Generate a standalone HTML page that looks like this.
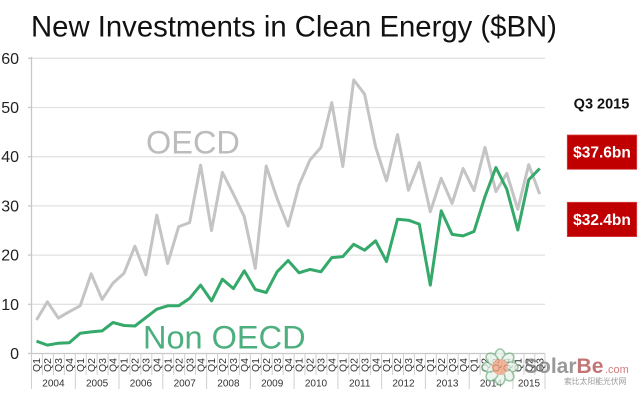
<!DOCTYPE html>
<html>
<head>
<meta charset="utf-8">
<style>
  html,body{margin:0;padding:0;background:#fff;}
  svg{display:block;font-family:"Liberation Sans",Arial,sans-serif;}
</style>
</head>
<body>
<svg width="640" height="408" viewBox="0 0 640 408" xmlns="http://www.w3.org/2000/svg">
  <rect width="640" height="408" fill="#fff"/>
  <!-- title -->
  <text x="31" y="36.5" font-size="29.3" fill="#111">New Investments in Clean Energy ($BN)</text>

  <!-- gridlines -->
  <g stroke="#e2e2e2" stroke-width="1.3">
    <line x1="31.5" y1="58.3" x2="545" y2="58.3"/>
    <line x1="31.5" y1="107.5" x2="545" y2="107.5"/>
    <line x1="31.5" y1="156.7" x2="545" y2="156.7"/>
    <line x1="31.5" y1="205.9" x2="545" y2="205.9"/>
    <line x1="31.5" y1="255.1" x2="545" y2="255.1"/>
    <line x1="31.5" y1="304.3" x2="545" y2="304.3"/>
  </g>
  <line x1="31.5" y1="353.5" x2="545" y2="353.5" stroke="#c8c8c8" stroke-width="1.3"/>
  <line x1="31.5" y1="57" x2="31.5" y2="354" stroke="#c8c8c8" stroke-width="1.3"/>
  <g stroke="#c8c8c8" stroke-width="1.3">
    <line x1="28" y1="58.3" x2="31.5" y2="58.3"/>
    <line x1="28" y1="107.5" x2="31.5" y2="107.5"/>
    <line x1="28" y1="156.7" x2="31.5" y2="156.7"/>
    <line x1="28" y1="205.9" x2="31.5" y2="205.9"/>
    <line x1="28" y1="255.1" x2="31.5" y2="255.1"/>
    <line x1="28" y1="304.3" x2="31.5" y2="304.3"/>
    <line x1="28" y1="353.5" x2="31.5" y2="353.5"/>
  </g>

  <!-- y labels -->
  <g font-size="16" fill="#222" text-anchor="end">
    <text x="19" y="64">60</text>
    <text x="19" y="113">50</text>
    <text x="19" y="162">40</text>
    <text x="19" y="211.5">30</text>
    <text x="19" y="260.5">20</text>
    <text x="19" y="310">10</text>
    <text x="19" y="359">0</text>
  </g>

  <!-- x axis separators -->
  <g stroke="#cfcfcf" stroke-width="1">
    <line x1="42.4" y1="353.5" x2="42.4" y2="375"/><line x1="53.4" y1="353.5" x2="53.4" y2="375"/><line x1="64.3" y1="353.5" x2="64.3" y2="375"/>
    <line x1="86.2" y1="353.5" x2="86.2" y2="375"/><line x1="97.1" y1="353.5" x2="97.1" y2="375"/><line x1="108.1" y1="353.5" x2="108.1" y2="375"/>
    <line x1="130" y1="353.5" x2="130" y2="375"/><line x1="140.9" y1="353.5" x2="140.9" y2="375"/><line x1="151.8" y1="353.5" x2="151.8" y2="375"/>
    <line x1="173.7" y1="353.5" x2="173.7" y2="375"/><line x1="184.7" y1="353.5" x2="184.7" y2="375"/><line x1="195.6" y1="353.5" x2="195.6" y2="375"/>
    <line x1="217.5" y1="353.5" x2="217.5" y2="375"/><line x1="228.4" y1="353.5" x2="228.4" y2="375"/><line x1="239.4" y1="353.5" x2="239.4" y2="375"/>
    <line x1="261.3" y1="353.5" x2="261.3" y2="375"/><line x1="272.2" y1="353.5" x2="272.2" y2="375"/><line x1="283.1" y1="353.5" x2="283.1" y2="375"/>
    <line x1="305" y1="353.5" x2="305" y2="375"/><line x1="316" y1="353.5" x2="316" y2="375"/><line x1="326.9" y1="353.5" x2="326.9" y2="375"/>
    <line x1="348.8" y1="353.5" x2="348.8" y2="375"/><line x1="359.7" y1="353.5" x2="359.7" y2="375"/><line x1="370.7" y1="353.5" x2="370.7" y2="375"/>
    <line x1="392.6" y1="353.5" x2="392.6" y2="375"/><line x1="403.5" y1="353.5" x2="403.5" y2="375"/><line x1="414.4" y1="353.5" x2="414.4" y2="375"/>
    <line x1="436.3" y1="353.5" x2="436.3" y2="375"/><line x1="447.3" y1="353.5" x2="447.3" y2="375"/><line x1="458.2" y1="353.5" x2="458.2" y2="375"/>
    <line x1="480.1" y1="353.5" x2="480.1" y2="375"/><line x1="491" y1="353.5" x2="491" y2="375"/><line x1="502" y1="353.5" x2="502" y2="375"/>
    <line x1="523.9" y1="353.5" x2="523.9" y2="375"/><line x1="534.8" y1="353.5" x2="534.8" y2="375"/>
  </g>
  <g stroke="#cfcfcf" stroke-width="1">
    <line x1="31.5" y1="353.5" x2="31.5" y2="389"/>
    <line x1="75.3" y1="353.5" x2="75.3" y2="389"/>
    <line x1="119" y1="353.5" x2="119" y2="389"/>
    <line x1="162.8" y1="353.5" x2="162.8" y2="389"/>
    <line x1="206.6" y1="353.5" x2="206.6" y2="389"/>
    <line x1="250.4" y1="353.5" x2="250.4" y2="389"/>
    <line x1="294.1" y1="353.5" x2="294.1" y2="389"/>
    <line x1="337.9" y1="353.5" x2="337.9" y2="389"/>
    <line x1="381.6" y1="353.5" x2="381.6" y2="389"/>
    <line x1="425.4" y1="353.5" x2="425.4" y2="389"/>
    <line x1="469.2" y1="353.5" x2="469.2" y2="389"/>
    <line x1="512.9" y1="353.5" x2="512.9" y2="389"/>
    <line x1="545" y1="353.5" x2="545" y2="389"/>
  </g>

  <!-- quarter labels -->
  <g font-size="10.5" fill="#333" text-anchor="middle">
    <text transform="translate(40.2,365) rotate(-90)">Q1</text>
    <text transform="translate(51.1,365) rotate(-90)">Q2</text>
    <text transform="translate(62.1,365) rotate(-90)">Q3</text>
    <text transform="translate(73,365) rotate(-90)">Q4</text>
    <text transform="translate(83.9,365) rotate(-90)">Q1</text>
    <text transform="translate(94.9,365) rotate(-90)">Q2</text>
    <text transform="translate(105.8,365) rotate(-90)">Q3</text>
    <text transform="translate(116.7,365) rotate(-90)">Q4</text>
    <text transform="translate(127.7,365) rotate(-90)">Q1</text>
    <text transform="translate(138.6,365) rotate(-90)">Q2</text>
    <text transform="translate(149.6,365) rotate(-90)">Q3</text>
    <text transform="translate(160.5,365) rotate(-90)">Q4</text>
    <text transform="translate(171.4,365) rotate(-90)">Q1</text>
    <text transform="translate(182.4,365) rotate(-90)">Q2</text>
    <text transform="translate(193.3,365) rotate(-90)">Q3</text>
    <text transform="translate(204.3,365) rotate(-90)">Q4</text>
    <text transform="translate(215.2,365) rotate(-90)">Q1</text>
    <text transform="translate(226.1,365) rotate(-90)">Q2</text>
    <text transform="translate(237.1,365) rotate(-90)">Q3</text>
    <text transform="translate(248,365) rotate(-90)">Q4</text>
    <text transform="translate(259,365) rotate(-90)">Q1</text>
    <text transform="translate(269.9,365) rotate(-90)">Q2</text>
    <text transform="translate(280.8,365) rotate(-90)">Q3</text>
    <text transform="translate(291.8,365) rotate(-90)">Q4</text>
    <text transform="translate(302.7,365) rotate(-90)">Q1</text>
    <text transform="translate(313.6,365) rotate(-90)">Q2</text>
    <text transform="translate(324.6,365) rotate(-90)">Q3</text>
    <text transform="translate(335.5,365) rotate(-90)">Q4</text>
    <text transform="translate(346.5,365) rotate(-90)">Q1</text>
    <text transform="translate(357.4,365) rotate(-90)">Q2</text>
    <text transform="translate(368.3,365) rotate(-90)">Q3</text>
    <text transform="translate(379.3,365) rotate(-90)">Q4</text>
    <text transform="translate(390.2,365) rotate(-90)">Q1</text>
    <text transform="translate(401.2,365) rotate(-90)">Q2</text>
    <text transform="translate(412.1,365) rotate(-90)">Q3</text>
    <text transform="translate(423,365) rotate(-90)">Q4</text>
    <text transform="translate(434,365) rotate(-90)">Q1</text>
    <text transform="translate(444.9,365) rotate(-90)">Q2</text>
    <text transform="translate(455.8,365) rotate(-90)">Q3</text>
    <text transform="translate(466.8,365) rotate(-90)">Q4</text>
    <text transform="translate(477.7,365) rotate(-90)">Q1</text>
    <text transform="translate(488.7,365) rotate(-90)">Q2</text>
    <text transform="translate(499.6,365) rotate(-90)">Q3</text>
    <text transform="translate(510.5,365) rotate(-90)">Q4</text>
    <text transform="translate(521.5,365) rotate(-90)">Q1</text>
    <text transform="translate(532.4,365) rotate(-90)">Q2</text>
    <text transform="translate(543.4,365) rotate(-90)">Q3</text>
  </g>

  <!-- year labels -->
  <g font-size="10" fill="#333" text-anchor="middle">
    <text x="53.4" y="386.5">2004</text>
    <text x="97.1" y="386.5">2005</text>
    <text x="140.9" y="386.5">2006</text>
    <text x="184.7" y="386.5">2007</text>
    <text x="228.4" y="386.5">2008</text>
    <text x="272.2" y="386.5">2009</text>
    <text x="316" y="386.5">2010</text>
    <text x="359.7" y="386.5">2011</text>
    <text x="403.5" y="386.5">2012</text>
    <text x="447.3" y="386.5">2013</text>
    <text x="491" y="386.5">2014</text>
    <text x="529" y="386.5">2015</text>
  </g>

  <!-- series labels -->
  <text x="146" y="153.3" font-size="32.5" fill="#bcbcbc">OECD</text>
  <text x="143" y="348.3" font-size="32.5" fill="#4caf7d">Non OECD</text>

  <!-- OECD series -->
  <polyline fill="none" stroke="#c4c4c4" stroke-width="3" stroke-linejoin="round" points="
    36.5,320.0 47.4,301.8 58.4,318.1 69.3,311.7 80.2,305.8 91.2,273.8 102.1,299.4 113.0,283.1
    124.0,273.3 134.9,246.2 145.9,274.8 156.8,215.2 167.7,263.5 178.7,226.6 189.6,222.6 200.6,165.1
    211.5,230.5 222.4,172.4 233.4,194.1 244.3,216.7 255.3,268.4 266.2,166.0 277.1,198.5 288.1,226.1
    299.0,185.2 309.9,160.1 320.9,147.4 331.8,102.6 342.8,166.5 353.7,79.9 364.6,94.2 375.6,146.9
    386.5,180.8 397.5,134.6 408.4,190.2 419.3,162.6 430.3,211.8 441.2,178.3 452.1,203.4 463.1,168.5
    474.0,190.6 485.0,147.4 495.9,191.6 506.8,173.4 517.8,209.3 528.7,164.6 539.7,194.1"/>

  <!-- Non OECD series -->
  <polyline fill="none" stroke="#34a96a" stroke-width="3" stroke-linejoin="round" points="
    36.5,341.2 47.4,345.1 58.4,343.2 69.3,342.7 80.2,333.3 91.2,331.9 102.1,330.9 113.0,322.5
    124.0,325.5 134.9,326.0 145.9,317.6 156.8,309.2 167.7,305.8 178.7,305.8 189.6,298.4 200.6,285.1
    211.5,300.9 222.4,279.2 233.4,288.6 244.3,270.8 255.3,289.5 266.2,292.5 277.1,271.8 288.1,260.5
    299.0,272.8 309.9,269.4 320.9,271.8 331.8,257.6 342.8,256.6 353.7,244.3 364.6,250.2 375.6,240.8
    386.5,261.5 397.5,219.2 408.4,220.2 419.3,224.1 430.3,285.1 441.2,210.8 452.1,234.4 463.1,235.9
    474.0,231.5 485.0,196.5 495.9,167.5 506.8,189.2 517.8,230.0 528.7,179.8 539.7,168.5"/>

  <!-- right annotations -->
  <text x="601.5" y="108.5" font-size="14.5" font-weight="bold" fill="#111" text-anchor="middle">Q3 2015</text>
  <rect x="567.3" y="135" width="69.4" height="34.3" fill="#c00000" stroke="#d84040" stroke-width="0.8"/>
  <text x="602" y="157.5" font-size="15.5" font-weight="bold" fill="#fff" text-anchor="middle">$37.6bn</text>
  <rect x="567.3" y="202.3" width="69.4" height="34.3" fill="#c00000" stroke="#d84040" stroke-width="0.8"/>
  <text x="602" y="224.8" font-size="15.5" font-weight="bold" fill="#fff" text-anchor="middle">$32.4bn</text>

  <!-- watermark -->
  <g opacity="0.75">
    <g transform="translate(500,367)" fill="#e8f2ea" stroke="#7cb48a" stroke-width="1.6">
      <ellipse cx="0" cy="-11" rx="5" ry="7"/>
      <ellipse cx="0" cy="-11" rx="5" ry="7" transform="rotate(45)"/>
      <ellipse cx="0" cy="-11" rx="5" ry="7" transform="rotate(90)"/>
      <ellipse cx="0" cy="-11" rx="5" ry="7" transform="rotate(135)"/>
      <ellipse cx="0" cy="-11" rx="5" ry="7" transform="rotate(180)"/>
      <ellipse cx="0" cy="-11" rx="5" ry="7" transform="rotate(225)"/>
      <ellipse cx="0" cy="-11" rx="5" ry="7" transform="rotate(270)"/>
      <ellipse cx="0" cy="-11" rx="5" ry="7" transform="rotate(315)"/>
      <circle cx="0" cy="0" r="8" fill="#eea07a" stroke="none"/>
    </g>
    <text x="524" y="373" font-size="21" font-weight="bold" fill="#777">Solar<tspan fill="#b04848">Be</tspan></text>
    <text x="605" y="373" font-size="11" fill="#c05050">.com</text>
    <text x="564" y="384" font-size="7.8" fill="#777" font-family="'Liberation Sans','Noto Sans CJK SC',sans-serif">索比太阳能光伏网</text>
  </g>
</svg>
</body>
</html>
